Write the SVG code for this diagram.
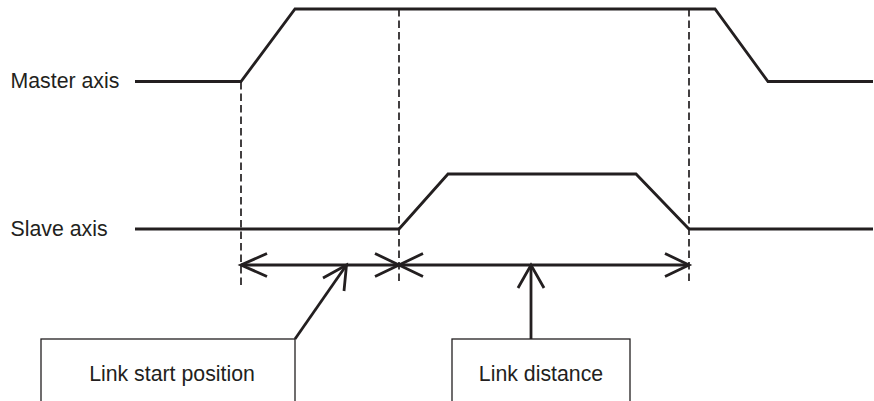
<svg xmlns="http://www.w3.org/2000/svg" width="874" height="401" viewBox="0 0 874 401">
<style>
.sig{fill:none;stroke:#231f20;stroke-width:2.8;stroke-linejoin:miter}
.dash{fill:none;stroke:#231f20;stroke-width:1.7;stroke-dasharray:7.5,4}
.arr{fill:none;stroke:#231f20;stroke-width:2.8}
.box{fill:#fff;stroke:#231f20;stroke-width:1.3}
.lbl{font-family:"Liberation Sans",Arial,sans-serif;font-size:21.3px;fill:#231f20}
</style>
<rect width="874" height="401" fill="#fff"/>
<g id="master-axis">
<text class="lbl" x="10.5" y="88">Master axis</text>
<polyline class="sig" points="135,81.5 241,81.5 295,9 715,9 768,81.5 873,81.5"/>
</g>
<g id="slave-axis">
<text class="lbl" x="10.5" y="235.5">Slave axis</text>
<polyline class="sig" points="135,229 399,229 448,174 636,174 689,229 873,229"/>
</g>
<g id="connectors">
<line class="dash" x1="241" y1="82" x2="241" y2="285"/>
<line class="dash" x1="399" y1="9" x2="399" y2="285"/>
<line class="dash" x1="689" y1="9" x2="689" y2="285"/>
<line class="arr" x1="241" y1="265" x2="689" y2="265"/>
<polyline class="arr" points="267,253.5 241,265 267,276.5"/>
<polyline class="arr" points="375,253.5 399,265 375,276.5"/>
<polyline class="arr" points="423,253.5 399,265 423,276.5"/>
<polyline class="arr" points="665,253.5 689,265 665,276.5"/>
<line class="arr" x1="295" y1="339" x2="346.5" y2="265"/>
<polyline class="arr" points="323,278 346.5,265 344,291"/>
<line class="arr" x1="531" y1="339" x2="531" y2="265"/>
<polyline class="arr" points="518,288 531,265 544,288"/>
</g>
<g id="link-start-position">
<rect class="box" x="41" y="339" width="254" height="70"/>
<text class="lbl" x="172" y="380.5" text-anchor="middle">Link start position</text>
</g>
<g id="link-distance">
<rect class="box" x="452" y="339" width="178" height="70"/>
<text class="lbl" x="541" y="380.5" text-anchor="middle">Link distance</text>
</g>
</svg>
